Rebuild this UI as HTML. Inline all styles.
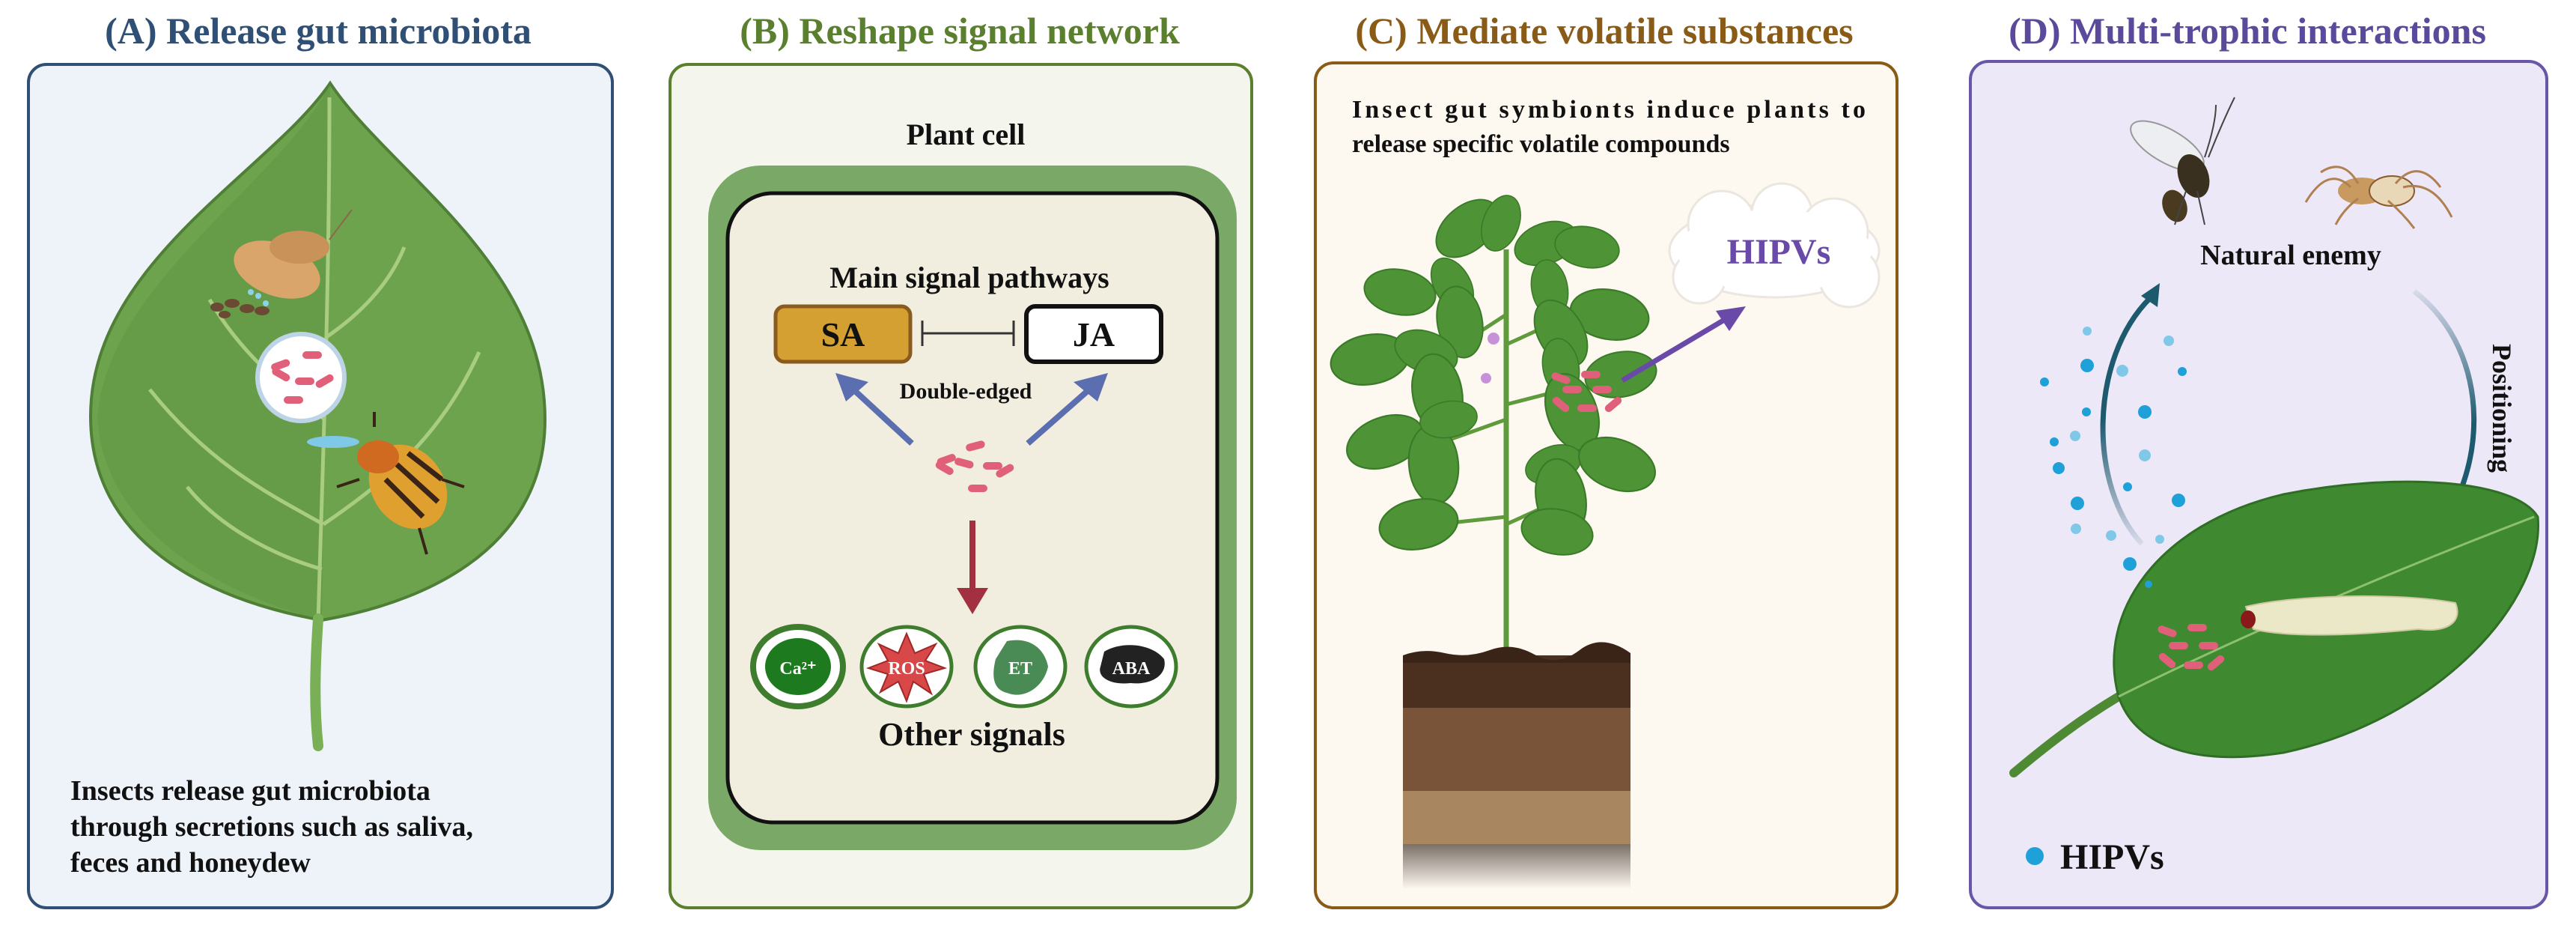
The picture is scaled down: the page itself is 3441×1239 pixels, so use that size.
<!DOCTYPE html>
<html><head><meta charset="utf-8"><style>
html,body{margin:0;padding:0;background:#fff;}
svg{display:block;}
text{font-family:"Liberation Serif",serif;font-weight:bold;}
</style></head><body>
<svg width="3441" height="1239" viewBox="0 0 3441 1239" xmlns="http://www.w3.org/2000/svg">
<defs>
<linearGradient id="upArr" x1="0" y1="1" x2="0" y2="0"><stop offset="0" stop-color="#1e5a6e" stop-opacity="0.1"/><stop offset="0.5" stop-color="#1e5a6e"/></linearGradient>
<linearGradient id="dnArr" x1="0" y1="0" x2="0" y2="1"><stop offset="0" stop-color="#1e5a6e" stop-opacity="0.1"/><stop offset="0.5" stop-color="#1e5a6e"/></linearGradient>
<linearGradient id="rock" x1="0" y1="0" x2="0" y2="1"><stop offset="0" stop-color="#7b7068"/><stop offset="1" stop-color="#fdf8f0"/></linearGradient>
<g id="bac"><rect x="-13" y="-5" width="26" height="10" rx="5" fill="#e0607a"/></g>
<g id="lf"><ellipse cx="0" cy="0" rx="48" ry="30" fill="#4e9436" stroke="#3b7a28" stroke-width="2"/></g>
</defs>

<!-- Titles -->
<text x="425" y="58" font-size="50" fill="#2f5074" text-anchor="middle">(A) Release gut microbiota</text>
<text x="1282" y="58" font-size="50" fill="#5a7f2e" text-anchor="middle">(B) Reshape signal network</text>
<text x="2143" y="58" font-size="50" fill="#8a5a17" text-anchor="middle">(C) Mediate volatile substances</text>
<text x="3002" y="58" font-size="50" fill="#5b4a9c" text-anchor="middle">(D) Multi-trophic interactions</text>

<!-- Panels -->
<rect x="38" y="86" width="780" height="1126" rx="24" fill="#eef3fa" stroke="#2f5074" stroke-width="4"/>
<rect x="895" y="86" width="777" height="1126" rx="24" fill="#f4f6ee" stroke="#5a7f2e" stroke-width="4"/>
<rect x="1757" y="84" width="777" height="1128" rx="24" fill="#fdf8f0" stroke="#8a5a17" stroke-width="4"/>
<rect x="2632" y="82" width="770" height="1130" rx="24" fill="#ece8f8" stroke="#6a56a8" stroke-width="4"/>

<!-- A: leaf -->
<path d="M441 111 C520 230 728 350 728 560 C728 720 590 800 430 828 C270 800 121 720 121 556 C121 350 360 230 441 111 Z" fill="#6ea34e" stroke="#4f7f36" stroke-width="4"/>
<path d="M441 111 C380 240 140 380 130 560 C140 700 280 790 430 828 Z" fill="#5d9442" opacity="0.5"/>
<g stroke="#a8cc80" stroke-width="5" fill="none">
<path d="M440 130 C440 400 430 650 425 830"/>
<path d="M432 700 C360 660 280 620 200 520"/>
<path d="M432 700 C520 640 590 580 640 470"/>
<path d="M434 560 C380 520 320 470 280 400"/>
<path d="M436 450 C480 420 520 380 540 330"/>
<path d="M430 760 C360 740 290 700 250 650"/>
</g>
<path d="M425 826 C420 900 420 950 425 996" stroke="#7ab055" stroke-width="14" fill="none" stroke-linecap="round"/>
<!-- moth -->
<ellipse cx="370" cy="360" rx="60" ry="35" fill="#d9a56a" transform="rotate(20 370 360)"/>
<ellipse cx="400" cy="330" rx="40" ry="22" fill="#c89258"/>
<line x1="440" y1="320" x2="470" y2="280" stroke="#8a6a4a" stroke-width="2"/>
<!-- feces -->
<g fill="#6a4a32"><ellipse cx="290" cy="410" rx="9" ry="6"/><ellipse cx="310" cy="405" rx="10" ry="6"/><ellipse cx="330" cy="412" rx="10" ry="6"/><ellipse cx="350" cy="415" rx="10" ry="6"/><ellipse cx="300" cy="420" rx="8" ry="5"/></g>
<g fill="#8fd0ea"><circle cx="335" cy="390" r="4"/><circle cx="345" cy="395" r="4"/><circle cx="355" cy="405" r="4"/></g>
<!-- petri -->
<circle cx="402" cy="504" r="58" fill="#fff" stroke="#bcd4e6" stroke-width="6"/>
<g transform="translate(402 504)"><use href="#bac" x="-20" y="-25" transform="rotate(-20)"/><use href="#bac" x="15" y="-30"/><use href="#bac" x="-25" y="10" transform="rotate(30)"/><use href="#bac" x="5" y="5"/><use href="#bac" x="25" y="20" transform="rotate(-30)"/><use href="#bac" x="-10" y="30"/></g>
<ellipse cx="445" cy="590" rx="35" ry="8" fill="#7fc8e6"/>
<!-- beetle -->
<ellipse cx="545" cy="650" rx="48" ry="60" fill="#e0a030" transform="rotate(-35 545 650)"/>
<g stroke="#3a2418" stroke-width="7"><line x1="515" y1="640" x2="565" y2="690"/><line x1="530" y1="620" x2="585" y2="670"/><line x1="545" y1="605" x2="590" y2="640"/></g>
<ellipse cx="505" cy="610" rx="28" ry="22" fill="#d06a20"/>
<g stroke="#3a2418" stroke-width="4"><line x1="480" y1="640" x2="450" y2="650"/><line x1="590" y1="640" x2="620" y2="650"/><line x1="560" y1="705" x2="570" y2="740"/><line x1="500" y1="570" x2="500" y2="550"/></g>
<text x="94" y="1068" font-size="38" fill="#111">Insects release gut microbiota</text>
<text x="94" y="1116" font-size="38" fill="#111">through secretions such as saliva,</text>
<text x="94" y="1164" font-size="38" fill="#111">feces and honeydew</text>

<!-- B -->
<text x="1290" y="193" font-size="40" fill="#111" text-anchor="middle">Plant cell</text>
<rect x="946" y="221" width="706" height="914" rx="70" fill="#7aa866"/>
<rect x="972" y="258" width="654" height="840" rx="60" fill="#f1eedf" stroke="#111" stroke-width="5"/>
<text x="1295" y="384" font-size="40" fill="#111" text-anchor="middle">Main signal pathways</text>
<rect x="1036" y="409" width="180" height="74" rx="12" fill="#d4a032" stroke="#8a5a1e" stroke-width="5"/>
<text x="1126" y="462" font-size="46" fill="#111" text-anchor="middle">SA</text>
<rect x="1371" y="409" width="180" height="74" rx="12" fill="#fff" stroke="#111" stroke-width="6"/>
<text x="1461" y="462" font-size="46" fill="#111" text-anchor="middle">JA</text>
<g stroke="#333" stroke-width="3"><line x1="1232" y1="445" x2="1354" y2="445"/><line x1="1232" y1="428" x2="1232" y2="462"/><line x1="1354" y1="428" x2="1354" y2="462"/></g>
<text x="1290" y="532" font-size="30" fill="#111" text-anchor="middle">Double-edged</text>
<g stroke="#5b6fb0" stroke-width="8"><line x1="1218" y1="592" x2="1140" y2="520"/><line x1="1373" y1="592" x2="1455" y2="520"/></g>
<polygon points="1116,498 1160,510 1130,536" fill="#5b6fb0"/>
<polygon points="1480,498 1434,510 1466,536" fill="#5b6fb0"/>
<g transform="translate(1301 627)"><use href="#bac" x="-30" y="-25" transform="rotate(-20)"/><use href="#bac" x="10" y="-30" transform="rotate(-15)"/><use href="#bac" x="-15" y="-5" transform="rotate(15)"/><use href="#bac" x="25" y="-5"/><use href="#bac" x="-35" y="18" transform="rotate(30)"/><use href="#bac" x="5" y="25"/><use href="#bac" x="35" y="22" transform="rotate(-30)"/></g>
<line x1="1299" y1="695" x2="1299" y2="790" stroke="#a33040" stroke-width="8"/>
<polygon points="1278,785 1320,785 1299,820" fill="#a33040"/>
<g stroke="#3e7d2e" stroke-width="5" fill="#fff">
<ellipse cx="1066" cy="890" rx="60" ry="53" stroke-width="8"/><ellipse cx="1211" cy="890" rx="60" ry="53"/><ellipse cx="1363" cy="890" rx="60" ry="53"/><ellipse cx="1511" cy="890" rx="60" ry="53"/></g>
<ellipse cx="1066" cy="890" rx="44" ry="38" fill="#1e7a1e"/>
<polygon points="1211,846 1222,872 1250,860 1236,882 1262,892 1234,900 1244,926 1220,910 1211,936 1200,910 1176,924 1186,900 1160,892 1186,882 1174,860 1200,872" fill="#d84848" stroke="#a02828" stroke-width="2"/>
<path d="M1345 856 C1375 850 1395 865 1400 890 C1395 915 1370 935 1345 925 C1325 920 1325 900 1330 880 Z" fill="#4a8a54"/>
<path d="M1475 870 C1500 855 1540 860 1555 880 C1560 900 1540 915 1510 912 C1485 915 1465 905 1470 890 Z" fill="#222"/>
<text x="1066" y="900" font-size="24" fill="#fff" text-anchor="middle" font-weight="normal">Ca²⁺</text>
<text x="1211" y="900" font-size="24" fill="#fff" text-anchor="middle" font-weight="normal">ROS</text>
<text x="1363" y="900" font-size="24" fill="#fff" text-anchor="middle" font-weight="normal">ET</text>
<text x="1511" y="900" font-size="24" fill="#fff" text-anchor="middle" font-weight="normal">ABA</text>
<text x="1298" y="995" font-size="44" fill="#111" text-anchor="middle">Other signals</text>

<!-- C -->
<text x="1806" y="157" font-size="34" fill="#111" textLength="686">Insect gut symbionts induce plants to</text>
<text x="1806" y="203" font-size="34" fill="#111">release specific volatile compounds</text>
<g fill="#fff" stroke="#ece6e0" stroke-width="3">
<ellipse cx="2370" cy="335" rx="140" ry="62"/><circle cx="2300" cy="300" r="45"/><circle cx="2380" cy="285" r="40"/><circle cx="2450" cy="310" r="45"/><circle cx="2470" cy="370" r="40"/><circle cx="2270" cy="370" r="35"/></g>
<ellipse cx="2370" cy="335" rx="130" ry="55" fill="#fff"/>
<text x="2376" y="352" font-size="48" fill="#6a4aa8" text-anchor="middle">HIPVs</text>
<!-- plant -->
<line x1="2012" y1="333" x2="2012" y2="873" stroke="#5f9a3c" stroke-width="7"/>
<g stroke="#5f9a3c" stroke-width="5"><line x1="2012" y1="420" x2="1920" y2="480"/><line x1="2012" y1="460" x2="2100" y2="420"/><line x1="2012" y1="560" x2="1900" y2="600"/><line x1="2012" y1="540" x2="2090" y2="520"/><line x1="2012" y1="700" x2="2100" y2="660"/><line x1="2012" y1="690" x2="1920" y2="700"/></g>
<use href="#lf" transform="translate(1960 305) rotate(-40)"/>
<use href="#lf" transform="translate(2005 298) rotate(-70) scale(0.8)"/>
<use href="#lf" transform="translate(2065 325) rotate(-20) scale(0.9)"/>
<use href="#lf" transform="translate(2120 330) rotate(10) scale(0.9)"/>
<use href="#lf" transform="translate(1940 380) rotate(60) scale(0.8)"/>
<use href="#lf" transform="translate(1950 430) rotate(80)"/>
<use href="#lf" transform="translate(1870 390) rotate(10)"/>
<use href="#lf" transform="translate(2070 385) rotate(80) scale(0.8)"/>
<use href="#lf" transform="translate(2150 420) rotate(10) scale(1.1)"/>
<use href="#lf" transform="translate(2085 445) rotate(60)"/>
<use href="#lf" transform="translate(1830 480) rotate(-10) scale(1.1)"/>
<use href="#lf" transform="translate(1905 470) rotate(20) scale(0.9)"/>
<use href="#lf" transform="translate(1920 525) rotate(80) scale(1.1)"/>
<use href="#lf" transform="translate(2085 490) rotate(80) scale(0.8)"/>
<use href="#lf" transform="translate(2165 500) rotate(-10)"/>
<use href="#lf" transform="translate(2100 550) rotate(70) scale(1.1)"/>
<use href="#lf" transform="translate(1850 590) rotate(-20) scale(1.1)"/>
<use href="#lf" transform="translate(1915 620) rotate(85) scale(1.1)"/>
<use href="#lf" transform="translate(1935 560) rotate(-10) scale(0.8)"/>
<use href="#lf" transform="translate(2075 620) rotate(-20) scale(0.8)"/>
<use href="#lf" transform="translate(2160 620) rotate(20) scale(1.1)"/>
<use href="#lf" transform="translate(2085 665) rotate(80) scale(1.1)"/>
<use href="#lf" transform="translate(1895 700) rotate(-10) scale(1.1)"/>
<use href="#lf" transform="translate(2080 710) rotate(10)"/>
<circle cx="1995" cy="452" r="8" fill="#c890d8"/><circle cx="1985" cy="505" r="7" fill="#c890d8"/>
<g><use href="#bac" x="2085" y="505" transform="rotate(20 2085 505)"/><use href="#bac" x="2125" y="500"/><use href="#bac" x="2100" y="520"/><use href="#bac" x="2140" y="520"/><use href="#bac" x="2085" y="540" transform="rotate(40 2085 540)"/><use href="#bac" x="2120" y="545"/><use href="#bac" x="2155" y="540" transform="rotate(-40 2155 540)"/></g>
<line x1="2167" y1="508" x2="2310" y2="423" stroke="#6a4aa8" stroke-width="7"/>
<polygon points="2332,409 2292,415 2310,442" fill="#6a4aa8"/>
<!-- soil -->
<rect x="1874" y="875" width="304" height="70" fill="#4b3020"/>
<path d="M1874 875 Q1900 865 1930 872 T1990 868 T2050 874 T2110 868 T2178 872 V885 H1874Z" fill="#3a2418"/>
<rect x="1874" y="945" width="304" height="111" fill="#7a5438"/>
<rect x="1874" y="1056" width="304" height="71" fill="#a88660"/>
<rect x="1874" y="1127" width="304" height="60" fill="url(#rock)"/>

<!-- D -->
<!-- wasp -->
<ellipse cx="2895" cy="195" rx="55" ry="22" fill="#eceef2" stroke="#999" stroke-width="2" transform="rotate(30 2895 195)"/>
<ellipse cx="2930" cy="235" rx="20" ry="30" fill="#3a3020" transform="rotate(-20 2930 235)"/>
<ellipse cx="2905" cy="275" rx="16" ry="22" fill="#4a3a20" transform="rotate(-20 2905 275)"/>
<g stroke="#444" stroke-width="2" fill="none"><path d="M2950 210 Q2970 160 2985 130"/><path d="M2945 210 Q2960 165 2960 140"/><path d="M2920 255 L2905 300"/><path d="M2935 255 L2945 300"/></g>
<!-- spider -->
<ellipse cx="3155" cy="255" rx="32" ry="18" fill="#c89a60"/>
<ellipse cx="3195" cy="255" rx="30" ry="20" fill="#e8d8b8" stroke="#8a5a30" stroke-width="2"/>
<g stroke="#b08050" stroke-width="3" fill="none"><path d="M3140 250 Q3110 220 3080 270"/><path d="M3150 245 Q3130 210 3100 230"/><path d="M3200 245 Q3230 210 3260 250"/><path d="M3210 250 Q3250 240 3275 290"/><path d="M3150 265 Q3130 280 3120 300"/><path d="M3190 268 Q3210 285 3225 305"/></g>
<text x="3060" y="353" font-size="38" fill="#111" text-anchor="middle">Natural enemy</text>
<!-- up arc -->
<path d="M2861 726 C2790 650 2790 480 2872 398" stroke="url(#upArr)" stroke-width="7" fill="none"/>
<polygon points="2885,378 2860,395 2882,410" fill="#1e5a6e"/>
<!-- down arc -->
<path d="M3225 389 C3330 470 3330 640 3232 740" stroke="url(#dnArr)" stroke-width="7" fill="none"/>
<polygon points="3218,756 3224,728 3246,748" fill="#1e5a6e"/>
<text transform="translate(3330 545) rotate(90)" font-size="36" fill="#111" text-anchor="middle">Positioning</text>
<!-- leaf -->
<path d="M2690 1032 C2740 990 2780 960 2830 930" stroke="#4e8a34" stroke-width="12" fill="none" stroke-linecap="round"/>
<path d="M2830 930 C2800 820 2880 700 3050 660 C3200 630 3360 640 3390 690 C3400 800 3260 960 3050 1005 C2920 1025 2850 990 2830 930 Z" fill="#3f8a30" stroke="#2f6e24" stroke-width="3"/>
<path d="M2830 930 C2950 870 3150 780 3385 690" stroke="#8ec070" stroke-width="3" fill="none"/>
<!-- larva -->
<path d="M3000 810 C3060 795 3200 790 3280 805 C3290 830 3270 845 3230 840 C3150 848 3060 852 3010 840 Z" fill="#ebe8c8" stroke="#cfc8a0" stroke-width="2"/>
<ellipse cx="3003" cy="827" rx="10" ry="12" fill="#8a1a1a"/>
<g><use href="#bac" x="2895" y="843" transform="rotate(20 2895 843)"/><use href="#bac" x="2935" y="838"/><use href="#bac" x="2910" y="862"/><use href="#bac" x="2950" y="862"/><use href="#bac" x="2895" y="882" transform="rotate(40 2895 882)"/><use href="#bac" x="2930" y="888"/><use href="#bac" x="2960" y="885" transform="rotate(-40 2960 885)"/></g>
<!-- dots -->
<g fill="#1ea0d8">
<circle cx="2788" cy="488" r="9"/><circle cx="2731" cy="510" r="6"/><circle cx="2787" cy="550" r="6"/><circle cx="2744" cy="590" r="6"/><circle cx="2750" cy="625" r="8"/><circle cx="2775" cy="672" r="9"/><circle cx="2865" cy="550" r="9"/><circle cx="2842" cy="650" r="6"/><circle cx="2910" cy="668" r="9"/><circle cx="2915" cy="496" r="6"/><circle cx="2845" cy="753" r="9"/><circle cx="2870" cy="780" r="5"/>
</g>
<g fill="#7fc8e8"><circle cx="2788" cy="442" r="6"/><circle cx="2897" cy="455" r="7"/><circle cx="2835" cy="495" r="8"/><circle cx="2772" cy="582" r="7"/><circle cx="2865" cy="608" r="8"/><circle cx="2773" cy="706" r="7"/><circle cx="2820" cy="715" r="7"/><circle cx="2885" cy="720" r="6"/></g>
<circle cx="2718" cy="1143" r="12" fill="#1ea0d8"/>
<text x="2752" y="1160" font-size="48" fill="#111">HIPVs</text>
</svg>
</body></html>
